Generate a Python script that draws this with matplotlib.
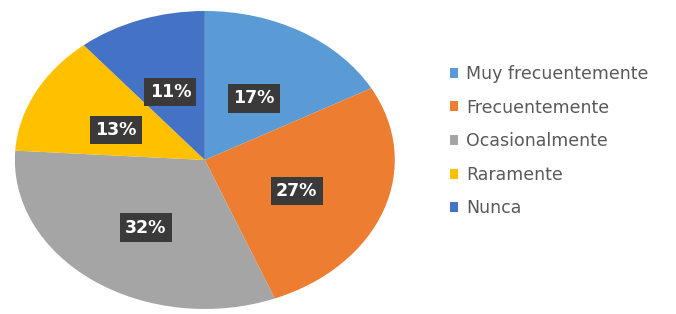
import matplotlib.pyplot as plt
from matplotlib.patches import Patch
from matplotlib.transforms import offset_copy

# data
categories = ['Muy frecuentemente', 'Frecuentemente', 'Ocasionalmente', 'Raramente', 'Nunca']
shares = [17, 27, 32, 13, 11]
colors = ['#5B9BD5', '#ED7D31', '#A5A5A5', '#FFC000', '#4472C4']

fig = plt.figure(figsize=(6.76, 3.14), dpi=100)
fig.patch.set_facecolor('white')

# pie is stretched into an ellipse, so the axes gets a wide box and auto aspect
ax = fig.add_axes([0.022, 0.016, 0.562, 0.949])
wedges, texts, autotexts = ax.pie(
    shares, colors=colors, startangle=90, counterclock=False,
    radius=1.0, pctdistance=0.52, autopct='%d%%',
    wedgeprops=dict(linewidth=0),
    textprops=dict(color='white', fontweight='bold', fontsize=12.5),
)
for t in autotexts:
    t.set_bbox(dict(boxstyle='square,pad=0.3', facecolor='#3a3a3a', edgecolor='none'))
    # labels sit a little lower than the wedge midpoints in the original
    t.set_transform(offset_copy(ax.transData, fig=fig, x=-1, y=-5, units='dots'))
ax.set_aspect('auto')
ax.set_xlim(-1, 1)
ax.set_ylim(-1, 1)

handles = [Patch(facecolor=c, edgecolor='none') for c in colors]
leg = fig.legend(handles, categories, loc='upper left', bbox_to_anchor=(0.642, 0.843),
                 frameon=False, fontsize=12.5, handlelength=0.5, handleheight=0.5,
                 handletextpad=0.45, labelspacing=0.9, labelcolor='#595959')

fig.savefig('out.png', dpi=100)
